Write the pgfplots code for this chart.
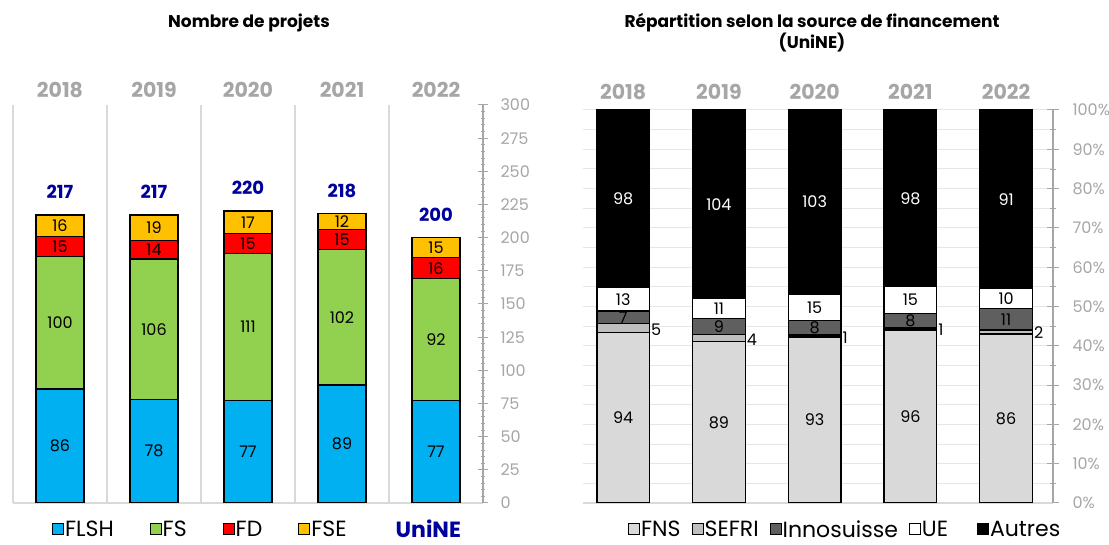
\documentclass[border=0pt]{standalone}
\usepackage{pgfplots}
\pgfplotsset{compat=1.18}
\usepackage{pgfplotstable}
\usepackage{fontspec}
\setmainfont{Poppins}
\definecolor{cFLSH}{HTML}{00B0F0}
\definecolor{cFS}{HTML}{92D050}
\definecolor{cFD}{HTML}{FF0000}
\definecolor{cFSE}{HTML}{FFC000}
\definecolor{cFNS}{HTML}{D9D9D9}
\definecolor{cSEFRI}{HTML}{BFBFBF}
\definecolor{cINNO}{HTML}{5F5F5F}
\definecolor{navyb}{HTML}{00009C}
\definecolor{yeargray}{HTML}{A6A6A6}
\definecolor{tickgray}{HTML}{A6A6A6}
\definecolor{sepgray}{HTML}{D9D9D9}
\definecolor{gridgray}{HTML}{E6E6E6}

% Left chart: number of projects
\pgfplotstableread{
x FLSH FS FD FSE
0 86 100 15 16
1 78 106 14 19
2 77 111 15 17
3 89 102 15 12
4 77 92 16 15
}\leftdata

% Right chart: percentages of total (counts in labels)
\pgfplotstableread{
x FNS SEFRI INNO UE AUTRES
0 43.32 2.30 3.23 5.99 45.16
1 41.01 1.84 4.15 5.07 47.93
2 42.27 0.45 3.64 6.82 46.82
3 44.04 0.46 3.67 6.88 44.95
4 43.00 1.00 5.50 5.00 45.50
}\rightdata

\newcommand{\labfont}{\fontsize{16}{18}\selectfont}
\newcommand{\legfont}{\fontsize{22}{24}\selectfont}
\newcommand{\tickfont}{\fontsize{16}{18}\selectfont}
\newcommand{\yearfont}{\fontsize{20.5}{22}\selectfont\bfseries}
\newcommand{\totfont}{\fontsize{18}{20}\selectfont\bfseries}
\newcommand{\titfont}{\fontsize{17}{21}\selectfont\bfseries}

\pgfplotsset{
  sqlegend/.style={legend image code/.code={\draw[##1, draw=black, line width=1pt] (0pt,-5.5pt) rectangle (11pt,5.5pt);}},
}

\begin{document}
\begin{tikzpicture}
\useasboundingbox (0,0) rectangle (1109pt,545pt);

% ---------------- Left chart ----------------
\begin{axis}[
  at={(13pt,42pt)}, anchor=south west, scale only axis,
  width=470pt, height=398pt,
  xmin=-0.5, xmax=4.5, ymin=0, ymax=300,
  ybar stacked, bar width=0.51,
  axis y line*=right, axis x line*=bottom,
  y axis line style={tickgray, line width=1.2pt},
  x axis line style={sepgray, line width=1.2pt},
  ytick={0,25,...,300}, minor y tick num=4,
  xtick={-0.5,0.5,1.5,2.5,3.5}, xticklabels={},
  xmajorgrids, major x grid style={sepgray, line width=1.2pt},
  x tick style={draw=none},
  major y tick style={tickgray, line width=1pt},
  minor y tick style={tickgray, line width=0.8pt},
  tick align=center, major tick length=10pt, minor tick length=4pt,
  yticklabel style={tickgray, font=\tickfont, xshift=9pt},
  /pgf/number format/assume math mode=true,
  sqlegend,
  legend style={at={(0.083,-0.065)}, anchor=west, draw=none, fill=none,
    inner sep=0pt, outer sep=0pt,
    legend columns=5, font=\legfont,
    /tikz/every even column/.append style={column sep=35pt},
    nodes={inner sep=1pt, text depth=0pt}},
  legend cell align=left,
]
\addplot[fill=cFLSH, draw=black, line width=1.3pt] table[x=x, y=FLSH] {\leftdata};
\addplot[fill=cFS, draw=black, line width=1.3pt] table[x=x, y=FS] {\leftdata};
\addplot[fill=cFD, draw=black, line width=1.3pt] table[x=x, y=FD] {\leftdata};
\addplot[fill=cFSE, draw=black, line width=1.3pt] table[x=x, y=FSE] {\leftdata};
\addlegendentry{FLSH}
\addlegendentry{FS}
\addlegendentry{FD}
\addlegendentry{FSE}
\addlegendimage{empty legend}
\addlegendentry{\hspace*{12pt}\textcolor{navyb}{\bfseries UniNE}}
\end{axis}

% Left labels overlay
\begin{axis}[
  at={(13pt,42pt)}, anchor=south west, scale only axis,
  width=470pt, height=398pt,
  xmin=-0.5, xmax=4.5, ymin=0, ymax=300,
  hide axis, clip=false,
]
\addplot[draw=none, mark=none, nodes near coords, point meta=explicit symbolic,
  every node near coord/.append style={anchor=center, font=\labfont, text=black, inner sep=0pt}]
coordinates {
(0,43)[86] (0,136)[100] (0,193.5)[15] (0,209)[16]
(1,39)[78] (1,131)[106] (1,191)[14] (1,207.5)[19]
(2,38.5)[77] (2,132.5)[111] (2,195.5)[15] (2,211.5)[17]
(3,44.5)[89] (3,140)[102] (3,198.5)[15] (3,212)[12]
(4,38.5)[77] (4,123)[92] (4,177)[16] (4,192.5)[15]
};
\addplot[draw=none, mark=none, nodes near coords, point meta=explicit symbolic,
  every node near coord/.append style={anchor=center, font=\totfont, text=navyb, inner sep=0pt}]
coordinates {(0,234.5)[217] (1,234.5)[217] (2,237.5)[220] (3,235.5)[218] (4,217.5)[200]};
\node[font=\yearfont, text=yeargray] at (axis cs:0,311.5) {2018};
\node[font=\yearfont, text=yeargray] at (axis cs:1,311.5) {2019};
\node[font=\yearfont, text=yeargray] at (axis cs:2,311.5) {2020};
\node[font=\yearfont, text=yeargray] at (axis cs:3,311.5) {2021};
\node[font=\yearfont, text=yeargray] at (axis cs:4,311.5) {2022};
\end{axis}

% ---------------- Right chart ----------------
\begin{axis}[
  at={(583pt,42pt)}, anchor=south west, scale only axis,
  width=470pt, height=393pt,
  xmin=-0.42, xmax=4.49, ymin=0, ymax=100,
  ybar stacked, bar width=0.55,
  axis y line*=right, axis x line*=bottom,
  y axis line style={tickgray, line width=1.2pt},
  x axis line style={sepgray, line width=1.2pt},
  ytick={0,10,...,100}, minor y tick num=1,
  yticklabel={\pgfmathprintnumber{\tick}\%},
  xtick=\empty,
  ymajorgrids, yminorgrids,
  major grid style={gridgray, line width=1pt},
  minor grid style={gridgray, line width=1pt},
  major y tick style={tickgray, line width=1pt},
  minor y tick style={tickgray, line width=0.8pt},
  tick align=center, major tick length=12pt, minor tick length=6pt,
  yticklabel style={tickgray, font=\tickfont, xshift=10pt},
  /pgf/number format/assume math mode=true,
  sqlegend,
  legend style={at={(0.096,-0.066)}, anchor=west, draw=none, fill=none,
    inner sep=0pt, outer sep=0pt,
    legend columns=5, font=\legfont,
    /tikz/every even column/.append style={column sep=10pt},
    nodes={inner sep=1pt, text depth=0pt}},
  legend cell align=left,
]
\addplot[fill=cFNS, draw=black, line width=1.3pt] table[x=x, y=FNS] {\rightdata};
\addplot[fill=cSEFRI, draw=black, line width=1.3pt] table[x=x, y=SEFRI] {\rightdata};
\addplot[fill=cINNO, draw=black, line width=1.3pt] table[x=x, y=INNO] {\rightdata};
\addplot[fill=white, draw=black, line width=1.3pt] table[x=x, y=UE] {\rightdata};
\addplot[fill=black, draw=black, line width=1.3pt] table[x=x, y=AUTRES] {\rightdata};
\addlegendentry{FNS}
\addlegendentry{SEFRI}
\addlegendentry{Innosuisse}
\addlegendentry{UE\hspace*{18pt}}
\addlegendentry{Autres}
\end{axis}

% Right labels overlay
\begin{axis}[
  at={(583pt,42pt)}, anchor=south west, scale only axis,
  width=470pt, height=393pt,
  xmin=-0.42, xmax=4.49, ymin=0, ymax=100,
  hide axis, clip=false,
]
\addplot[draw=none, mark=none, nodes near coords, point meta=explicit symbolic,
  every node near coord/.append style={anchor=center, font=\labfont, text=black, inner sep=0pt}]
coordinates {
(0,21.66)[94] (0,47.24)[7] (0,51.84)[13]
(1,20.51)[89] (1,44.93)[9] (1,49.54)[11]
(2,21.14)[93] (2,44.54)[8] (2,49.77)[15]
(3,22.02)[96] (3,46.34)[8] (3,51.61)[15]
(4,21.50)[86] (4,46.75)[11] (4,52.00)[10]
};
\addplot[draw=none, mark=none, nodes near coords, point meta=explicit symbolic,
  every node near coord/.append style={anchor=center, font=\labfont, text=white, inner sep=0pt}]
coordinates {(0,77.42)[98] (1,76.04)[104] (2,76.59)[103] (3,77.52)[98] (4,77.25)[91]};
\addplot[draw=none, mark=none, nodes near coords, point meta=explicit symbolic,
  every node near coord/.append style={anchor=west, font=\labfont, text=black, inner sep=1pt}]
coordinates {(0.28,44.2)[5] (1.28,41.5)[4] (2.28,42.0)[1] (3.28,44.0)[1] (4.28,43.3)[2]};
\node[font=\yearfont, text=yeargray] at (axis cs:0,104.6) {2018};
\node[font=\yearfont, text=yeargray] at (axis cs:1,104.6) {2019};
\node[font=\yearfont, text=yeargray] at (axis cs:2,104.6) {2020};
\node[font=\yearfont, text=yeargray] at (axis cs:3,104.6) {2021};
\node[font=\yearfont, text=yeargray] at (axis cs:4,104.6) {2022};
\end{axis}

% Titles
\node[font=\titfont] at (249pt,522pt) {Nombre de projets};
\node[font=\titfont, align=center] at (812pt,512pt) {Répartition selon la source de financement\\(UniNE)};
\end{tikzpicture}
\end{document}
